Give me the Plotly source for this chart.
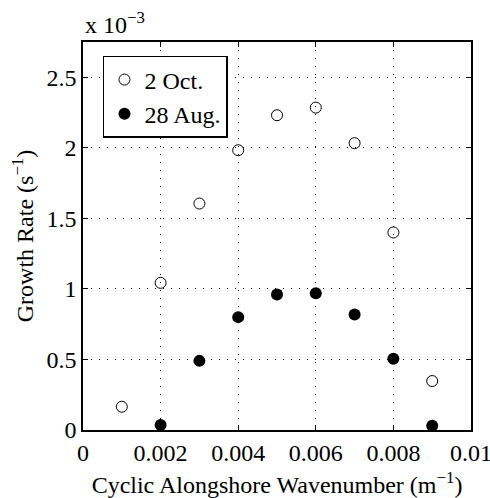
import plotly.graph_objects as go

wavenumber = [0.001, 0.002, 0.003, 0.004, 0.005, 0.006, 0.007, 0.008, 0.009]
oct2_growth_e3 = [0.165, 1.043, 1.605, 1.983, 2.231, 2.285, 2.033, 1.40, 0.347]
aug28_x = [0.002, 0.003, 0.004, 0.005, 0.006, 0.007, 0.008, 0.009]
aug28_growth_e3 = [0.035, 0.49, 0.80, 0.961, 0.970, 0.819, 0.505, 0.03]

x_ticks = [0, 0.002, 0.004, 0.006, 0.008, 0.01]
x_ticklabels = ["0", "0.002", "0.004", "0.006", "0.008", "0.01"]
y_ticks = [0, 0.5, 1, 1.5, 2, 2.5]
y_ticklabels = ["0", "0.5", "1", "1.5", "2", "2.5"]

FONT = "Liberation Serif, Times New Roman, serif"
FS = 24

fig = go.Figure()
fig.add_trace(go.Scatter(
    x=wavenumber, y=oct2_growth_e3, mode="markers", name="2 Oct.",
    marker=dict(symbol="circle-open", size=11, color="black", line=dict(width=1))
))
fig.add_trace(go.Scatter(
    x=aug28_x, y=aug28_growth_e3, mode="markers", name="28 Aug.",
    marker=dict(symbol="circle", size=12, color="black")
))

axis_common = dict(
    showline=True, linecolor="black", linewidth=1.5, mirror="ticks",
    ticks="inside", ticklen=5, tickcolor="black",
    showgrid=True, gridcolor="black", gridwidth=1, griddash="1px,7px",
    zeroline=False, automargin=False, ticklabeloverflow="allow",
    tickfont=dict(family=FONT, size=FS, color="black"),
)

fig.update_xaxes(
    range=[0, 0.01], tickvals=x_ticks, ticktext=x_ticklabels,
    title=dict(text="Cyclic Alongshore Wavenumber (m<sup>−1</sup>)",
               font=dict(family=FONT, size=FS, color="black")),
    **axis_common
)
fig.update_yaxes(
    range=[0, 2.75], tickvals=y_ticks, ticktext=y_ticklabels,
    title=dict(text="Growth Rate (s<sup>−1</sup>)", standoff=6,
               font=dict(family=FONT, size=FS, color="black")),
    **axis_common
)

fig.update_layout(
    width=490, height=498,
    margin=dict(l=83, r=19, t=42, b=68),
    paper_bgcolor="white", plot_bgcolor="white",
    font=dict(family=FONT, size=FS, color="black"),
    showlegend=True,
    legend=dict(
        x=0.0515, y=0.964, xanchor="left", yanchor="top",
        bordercolor="black", borderwidth=1.5, bgcolor="white",
        font=dict(family=FONT, size=FS, color="black"),
        itemwidth=30,
    ),
    annotations=[dict(
        text="x 10<sup>−3</sup>", xref="paper", yref="paper",
        x=0, y=1.0, xanchor="left", yanchor="bottom", yshift=2,
        showarrow=False, font=dict(family=FONT, size=FS, color="black"),
    )],
)

fig.write_html("out.html", config={"displayModeBar": False},
               post_script="document.body.style.margin='0';")
